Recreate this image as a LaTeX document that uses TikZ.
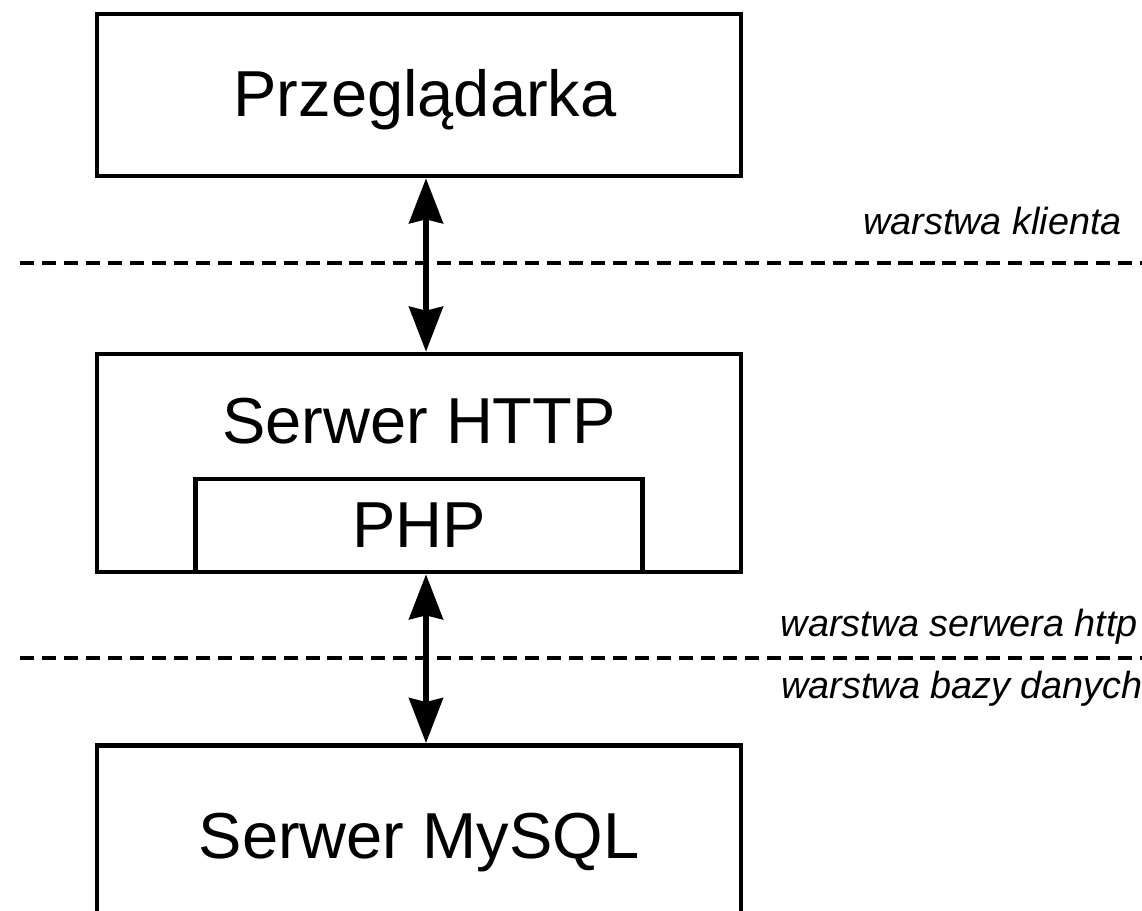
\documentclass[tikz,border=0pt]{standalone}
\usepackage{fontspec}
\setmainfont{Liberation Sans}
\usetikzlibrary{arrows.meta}

\begin{document}
\begin{tikzpicture} [
    x=0.02cm, y=-0.02cm,
    layer/.style = {draw, line width=2.7pt, minimum width=12.88cm, inner sep=0pt},
    big/.style = {font=\fontsize{37}{44}\selectfont, inner sep=0pt},
    small/.style = {font=\fontsize{21.5}{26}\selectfont\itshape, inner sep=0pt},
    border/.style = {dash pattern=on 8pt off 4.5pt, line width=2pt},
    dbl/.style = {line width=2.9pt, {Stealth[length=0.9cm, width=0.68cm, inset=0.08cm]}-{Stealth[length=0.9cm, width=0.68cm, inset=0.08cm]}}
]
    \useasboundingbox (0,0) rectangle (1142,911);
    \clip (0,0) rectangle (1142,911);

    \node [layer, minimum height=3.24cm] (brow) at (419,95) {};
    \node [big] (browtxt) at (425,100) {Przeglądarka};
    \node [layer, minimum height=4.36cm] (http) at (419,463) {};
    \node [big] (httptxt) at (419,421) {Serwer HTTP};
    \node [layer, minimum width=8.94cm, minimum height=1.86cm, anchor=south, big] (php) at (http.south) {PHP};
    \node [layer, minimum height=3.9cm, anchor=north, big] (mysql) at (419,743) {Serwer MySQL};

    % granice warstw
    \draw [border] (20,263) -- (1142,263);
    \draw [border] (20,658) -- (1142,658);
    \node [small, anchor=base east] (klient) at (1122,235) {warstwa klienta};
    \node [small, anchor=base east] (serwer) at (1138,636) {warstwa serwera http};
    \node [small, anchor=base east] (baza) at (1143,698) {warstwa bazy danych};

    \draw [dbl] ([xshift=0.14cm]brow.south) -- ([xshift=0.14cm]http.north);
    \draw [dbl] ([xshift=0.14cm]php.south) -- ([xshift=0.14cm]mysql.north);
\end{tikzpicture}
\end{document}
